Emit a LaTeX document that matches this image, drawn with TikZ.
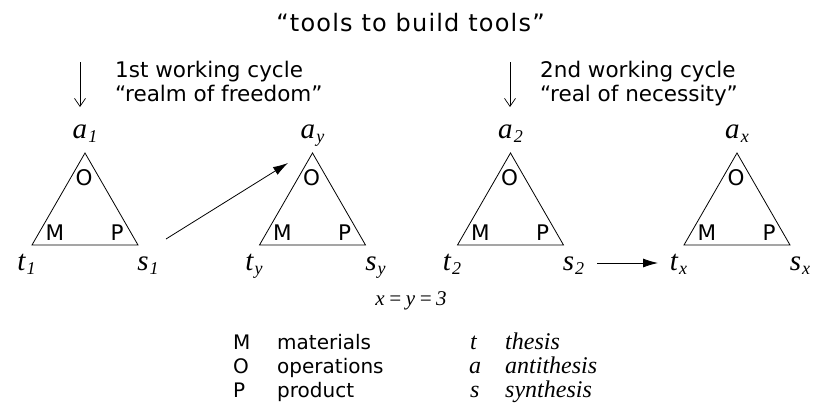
\documentclass[tikz,border=0pt]{standalone}
\usepackage{fontspec}
\setmainfont{Liberation Serif}
\newfontfamily\unifont{DejaVu Sans}
\newfontfamily\titlefont[LetterSpace=5]{DejaVu Sans}
\usetikzlibrary{arrows.meta}
\newcommand{\lbl}[2]{{\fontsize{29}{29}\selectfont\itshape #1\kern0.04em\raisebox{-4pt}{\fontsize{18}{18}\selectfont #2}}}
\tikzset{
  tri/.style={draw=black, line width=0.8pt, line join=miter},
  vlabel/.style={anchor=base, inner sep=0pt},
  inlabel/.style={inner sep=0pt, font=\unifont\fontsize{21.5}{21.5}\selectfont},
  sanstext/.style={anchor=base west, inner sep=0pt, font=\unifont\fontsize{21.5}{21.5}\selectfont},
  legs/.style={anchor=base west, inner sep=0pt, font=\unifont\fontsize{20}{20}\selectfont},
  legi/.style={anchor=base west, inner sep=0pt, font=\fontsize{24}{24}\selectfont\itshape},
  downarrow/.style={draw=black, line width=0.7pt, -{Straight Barb[length=8pt,width=11pt]}},
  bigarrow/.style={draw=black, line width=0.8pt, -{Latex[length=15pt,width=9pt]}}
}
\newcommand{\triang}[5]{% #1 center x, #2 name, #3 a-sub, #4 t-sub, #5 s-sub
  \coordinate (#2apex) at (#1,153);
  \coordinate (#2left) at (#1-53,245);
  \coordinate (#2right) at (#1+53,245);
  \draw[tri] (#2apex) -- (#2left) -- (#2right) -- cycle;
  \node[vlabel] (#2a) at (#1,138) {\lbl{a}{#3}};
  \node[vlabel] (#2t) at (#1-58.5,270) {\lbl{t}{#4}};
  \node[vlabel] (#2s) at (#1+63,270) {\lbl{s}{#5}};
  \node[inlabel] (#2O) at (#1-1,177.5) {O};
  \node[inlabel] (#2M) at (#1-30,233) {M};
  \node[inlabel] (#2P) at (#1+32,233) {P};
}
\begin{document}
\begin{tikzpicture}[x=1pt,y=-1pt]
\useasboundingbox (0,0) rectangle (815,410);
% title
\node[anchor=base, inner sep=0pt, font=\titlefont\fontsize{24}{24}\selectfont] (title) at (410.5,31) {“tools to build tools”};
% cycle captions
\coordinate (d1s) at (80,62); \coordinate (d1e) at (80,107);
\coordinate (d2s) at (510,62); \coordinate (d2e) at (510,107);
\draw[downarrow] (d1s) -- (d1e);
\draw[downarrow] (d2s) -- (d2e);
\node[sanstext] (c1a) at (115,77) {1st working cycle};
\node[sanstext] (c1b) at (115,101) {“realm of freedom”};
\node[sanstext] (c2a) at (540,77) {2nd working cycle};
\node[sanstext] (c2b) at (540,101) {“real of necessity”};
% triangles
\triang{85}{T1}{1}{1}{1}
\triang{312.5}{T2}{y}{y}{y}
\triang{510.5}{T3}{2}{2}{2}
\triang{737}{T4}{x}{x}{x}
% connectors
\coordinate (a1s) at (166,239); \coordinate (a1e) at (288,163);
\draw[bigarrow] (a1s) -- (a1e);
\coordinate (a2s) at (597,263); \coordinate (a2e) at (658,263);
\draw[bigarrow] (a2s) -- (a2e);
% equation
\node[anchor=base, inner sep=0pt, font=\fontsize{21}{21}\selectfont\itshape] (eq) at (411,305) {x\,=\,y\,=\,3};
% legend
\node[legs] (lM) at (233,349) {M};
\node[legs] (lMt) at (277,349) {materials};
\node[legs] (lO) at (233,373) {O};
\node[legs] (lOt) at (277,373) {operations};
\node[legs] (lP) at (233,397) {P};
\node[legs] (lPt) at (277,397) {product};
\node[legi] (lt) at (470,349) {t};
\node[legi] (ltt) at (505,349) {thesis};
\node[legi] (la) at (469,373) {a};
\node[legi] (lat) at (505,373) {antithesis};
\node[legi] (ls) at (470,397) {s};
\node[legi] (lst) at (505,397) {synthesis};
\end{tikzpicture}
\end{document}
